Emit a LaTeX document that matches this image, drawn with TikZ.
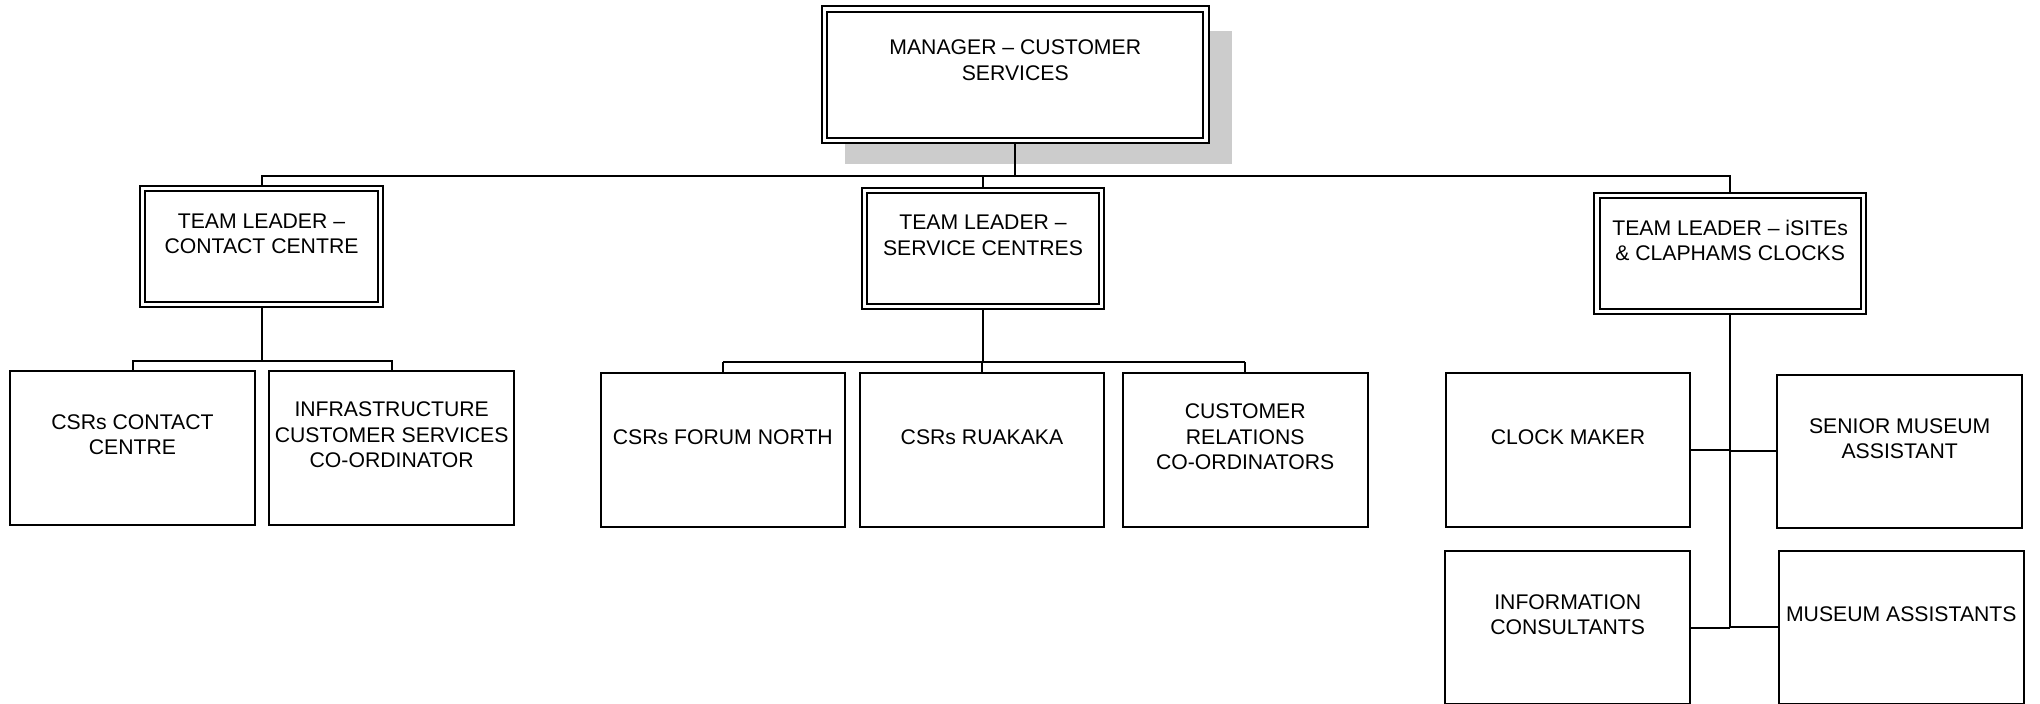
\documentclass[tikz,border=0pt]{standalone}
\usepackage{fontspec}
\setmainfont{Liberation Sans}
\usetikzlibrary{shadows}
\tikzset{
    post/.style={draw, line width=1pt, fill=white, align=center, inner xsep=1pt,
        text depth=13pt, font=\fontsize{10.6pt}{12.75pt}\selectfont},
    staffbox/.style={post, minimum width=122.3pt, minimum height=76.8pt},
    leadbox/.style={post, double, double distance=1.6pt, outer sep=1.8pt,
        minimum width=118.85pt, minimum height=58.25pt},
    link/.style={line width=1pt}
}
\begin{document}
\begin{tikzpicture}[x=0.5pt, y=-0.5pt]
            \useasboundingbox (0,0) rectangle (2040,703);
            \coordinate (bus) at (0,176);
            \coordinate (bus1) at (0,360.7);
            \coordinate (bus2) at (0,362.3);

            \node[leadbox, minimum width=190.75pt, minimum height=65.75pt, text depth=14.5pt,
                drop shadow={shadow xshift=11.4pt, shadow yshift=-11.1pt, shadow scale=1.015,
                    draw=none, fill=gray!40, opacity=1}]
                (mgr) at (1015.25, 74.75) {MANAGER \textendash{} CUSTOMER\\SERVICES};

            \node[leadbox] (tl1) at (261.5, 246.6) {TEAM LEADER \textendash\\CONTACT CENTRE};
            \node[leadbox] (tl2) at (983, 248.35) {TEAM LEADER \textendash\\SERVICE CENTRES};
            \node[leadbox, minimum width=133.1pt] (tl3) at (1730.1, 253.5)
                {TEAM LEADER \textendash{} iSITEs\\\& CLAPHAMS CLOCKS};

            \node[staffbox] (cc) at (132.5, 447.7) {CSRs CONTACT\\CENTRE};
            \node[staffbox] (infra) at (391.7, 447.7) {INFRASTRUCTURE\\CUSTOMER SERVICES\\CO-ORDINATOR};
            \node[staffbox] (forum) at (722.85, 449.7) {CSRs FORUM NORTH};
            \node[staffbox] (ruakaka) at (982, 449.7) {CSRs RUAKAKA};
            \node[staffbox] (relations) at (1245.2, 449.7) {CUSTOMER\\RELATIONS\\CO-ORDINATORS};
            \node[staffbox] (clock) at (1568, 450) {CLOCK MAKER};
            \node[staffbox] (senior) at (1899.7, 451.35) {SENIOR MUSEUM\\ASSISTANT};
            \node[staffbox] (info) at (1567.7, 627.5) {INFORMATION\\CONSULTANTS};
            \node[staffbox] (museum) at (1901.3, 627.4) {MUSEUM ASSISTANTS};

            \draw[link] (mgr.south) -- (mgr.south |- bus);
            \draw[link] (tl1.north) -- (tl1.north |- bus) -- (tl3.north |- bus) -- (tl3.north);
            \draw[link] (tl2.north) -- (tl2.north |- bus);

            \draw[link] (tl1.south) -- (tl1.south |- bus1);
            \draw[link] (cc.north) -- (cc.north |- bus1) -- (infra.north |- bus1) -- (infra.north);

            \draw[link] (tl2.south) -- (tl2.south |- bus2);
            \draw[link] (forum.north |- bus2) -- (relations.north |- bus2);
            \foreach \n in {forum, ruakaka, relations} {
                \draw[link] (\n.north) -- (\n.north |- bus2);
            }

            \draw[link] (tl3.south) -- (tl3.south |- info.east);
            \foreach \n in {clock, info} {
                \draw[link] (\n.east) -- (\n.east -| tl3.south);
            }
            \foreach \n in {senior, museum} {
                \draw[link] (\n.west) -- (\n.west -| tl3.south);
            }
\end{tikzpicture}
\end{document}
